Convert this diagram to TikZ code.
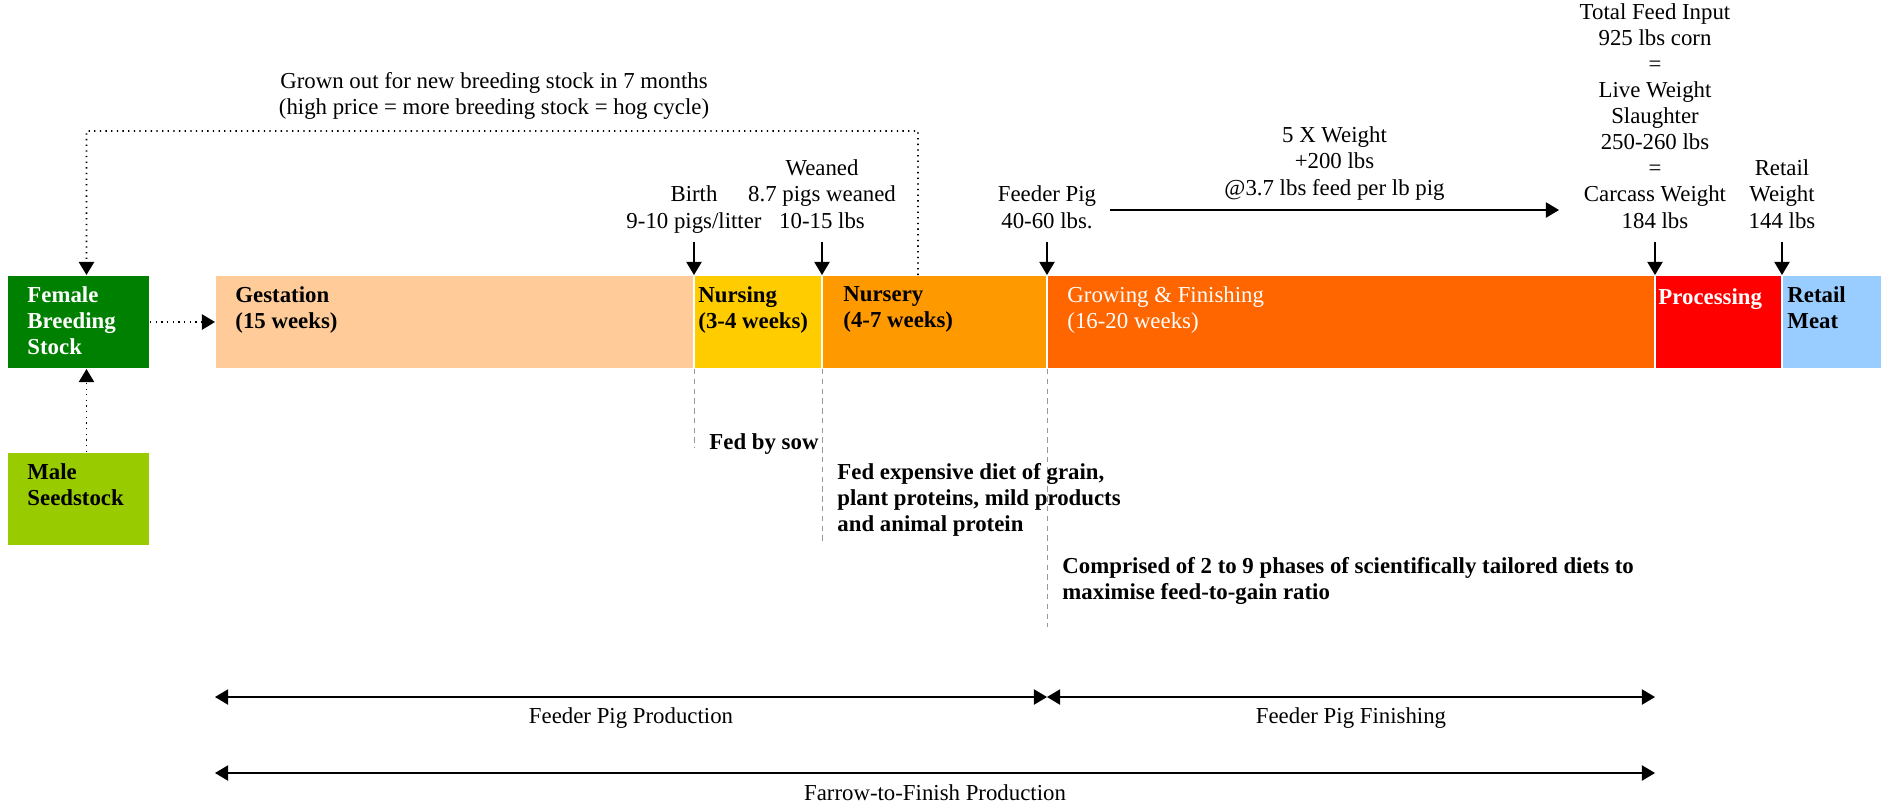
\documentclass[tikz,border=0pt]{standalone}
\usepackage{fontspec}
\setmainfont{Liberation Serif}
\usetikzlibrary{arrows.meta,positioning}

\newdimen\pxu
\pxu=0.46pt

\definecolor{femalecol}{HTML}{008000}
\definecolor{malecol}{HTML}{99CC00}
\definecolor{gestcol}{HTML}{FFCC99}
\definecolor{nursecol}{HTML}{FFCC00}
\definecolor{nurserycol}{HTML}{FF9900}
\definecolor{growcol}{HTML}{FF6600}
\definecolor{proccol}{HTML}{FF0000}
\definecolor{retailcol}{HTML}{99CCFF}

\begin{document}
\begin{tikzpicture}[
    x=\pxu, y=-\pxu,
    font=\fontsize{10.5}{12}\selectfont,
    stage/.style={rectangle, draw=white, line width=0.5pt, anchor=north west, inner sep=0pt, outer sep=0pt, minimum height=94\pxu},
    txt/.style={inner sep=0pt, execute at begin node=\strut, execute at end node=\strut},
    stagetxt/.style={txt, anchor=north west, align=left, font=\fontsize{10.5}{12}\selectfont\bfseries},
    toplbl/.style={txt, align=center, outer sep=3pt},
    note/.style={txt, anchor=north west, align=left, font=\fontsize{10.5}{12}\selectfont\bfseries},
    arrow/.style={-{Triangle[width=7pt,length=6pt]}, line width=0.6pt},
    dotarrow/.style={arrow, dotted, line width=0.8pt},
    guide/.style={gray!80, line width=0.4pt, dash pattern=on 2.5pt off 2pt},
    span/.style={{Triangle[width=7pt,length=6pt]}-{Triangle[width=7pt,length=6pt]}, line width=0.6pt}
]
\useasboundingbox (0,0) rectangle (1882,803);

% Breeding stock
\node[stage, fill=femalecol, minimum width=143\pxu] (female) at (7,275) {};
\node[stage, fill=malecol, minimum width=143\pxu] (male) at (7,452) {};

% Production stages
\node[stage, fill=gestcol, minimum width=479\pxu] (gest) at (215,275) {};
\node[stage, fill=nursecol, minimum width=128\pxu, right=0pt of gest] (nursing) {};
\node[stage, fill=nurserycol, minimum width=225\pxu, right=0pt of nursing] (nursery) {};
\node[stage, fill=growcol, minimum width=608\pxu, right=0pt of nursery] (grow) {};
\node[stage, fill=proccol, minimum width=127\pxu, right=0pt of grow] (proc) {};
\node[stage, fill=retailcol, minimum width=100\pxu, right=0pt of proc] (retail) {};

% Stage texts
\node[stagetxt, text=white] at ([shift={(20,11)}]female.north west) {Female\\Breeding\\Stock};
\node[stagetxt] at ([shift={(20,11)}]male.north west) {Male\\Seedstock};
\node[stagetxt] at ([shift={(20,11)}]gest.north west) {Gestation\\(15 weeks)};
\node[stagetxt] at ([shift={(4,11)}]nursing.north west) {Nursing\\(3-4 weeks)};
\node[stagetxt] at ([shift={(21,11)}]nursery.north west) {Nursery\\(4-7 weeks)};
\node[stagetxt, text=white, font=\fontsize{10.5}{12}\selectfont] at ([shift={(20,11)}]grow.north west) {Growing \& Finishing\\(16-20 weeks)};
\node[stagetxt, text=white] at ([shift={(3,11)}]proc.north west) {Processing};
\node[stagetxt] at ([shift={(5,11)}]retail.north west) {Retail\\Meat};

% Milestones
\node[toplbl, above=15pt of nursing.north west] (birth) {Birth\\9-10 pigs/litter};
\node[toplbl, above=15pt of nursery.north west] (weaned) {Weaned\\8.7 pigs weaned\\10-15 lbs};
\node[toplbl, above=15pt of grow.north west] (feeder) {Feeder Pig\\40-60 lbs.};
\node[toplbl, above=15pt of proc.north west] (carcass) {Total Feed Input\\925 lbs corn\\=\\Live Weight\\Slaughter\\250-260 lbs\\=\\Carcass Weight\\184 lbs};
\node[toplbl, above=15pt of retail.north west] (retailwt) {Retail\\Weight\\144 lbs};

\draw[arrow] (birth) -- (nursing.north west);
\draw[arrow] (weaned) -- (nursery.north west);
\draw[arrow] (feeder) -- (grow.north west);
\draw[arrow] (carcass) -- (proc.north west);
\draw[arrow] (retailwt) -- (retail.north west);

% Weight gain
\coordinate (gainstart) at (1110,210);
\coordinate (gainend) at (1559,210);
\draw[arrow] (gainstart) -- (gainend) node[txt, midway, above=3pt, align=center] {5 X Weight\\+200 lbs\\@3.7 lbs feed per lb pig};

% Breeding loop
\coordinate (growout) at ([shift={(96,0)}]nursery.north west);
\coordinate (loopcorner) at (918,131);
\node[txt, anchor=north, align=center] (grownout) at (494,72) {Grown out for new breeding stock in 7 months\\(high price = more breeding stock = hog cycle)};
\draw[dotarrow] (growout) -- (loopcorner) -| ([shift={(8,0)}]female.north);
\draw[dotarrow] ([shift={(8,0)}]male.north) -- ([shift={(8,0)}]female.south);
\draw[dotarrow] (female) -- (gest);

% Feeding notes
\draw[guide] (nursing.south west) -- ++(0,79);
\draw[guide] (nursery.south west) -- ++(0,174);
\draw[guide] (grow.south west) -- ++(0,258);
\node[note] (sow) at ([shift={(15,62)}]nursing.south west) {Fed by sow};
\node[note] (diet) at ([shift={(15,94)}]nursery.south west) {Fed expensive diet of grain,\\plant proteins, mild products\\and animal protein};
\node[note] (phases) at ([shift={(15,188)}]grow.south west) {Comprised of 2 to 9 phases of scientifically tailored diets to\\maximise feed-to-gain ratio};

% Production spans
\coordinate (spanrow) at (0,697);
\coordinate (farrowrow) at (0,773);
\draw[span] (gest.west |- spanrow) -- (grow.west |- spanrow) node[txt, midway, below=3.7pt] {Feeder Pig Production};
\draw[span] (grow.west |- spanrow) -- (proc.west |- spanrow) node[txt, midway, below=3.7pt] {Feeder Pig Finishing};
\draw[span] (gest.west |- farrowrow) -- (proc.west |- farrowrow) node[txt, midway, below=4pt] {Farrow-to-Finish Production};

\end{tikzpicture}
\end{document}
